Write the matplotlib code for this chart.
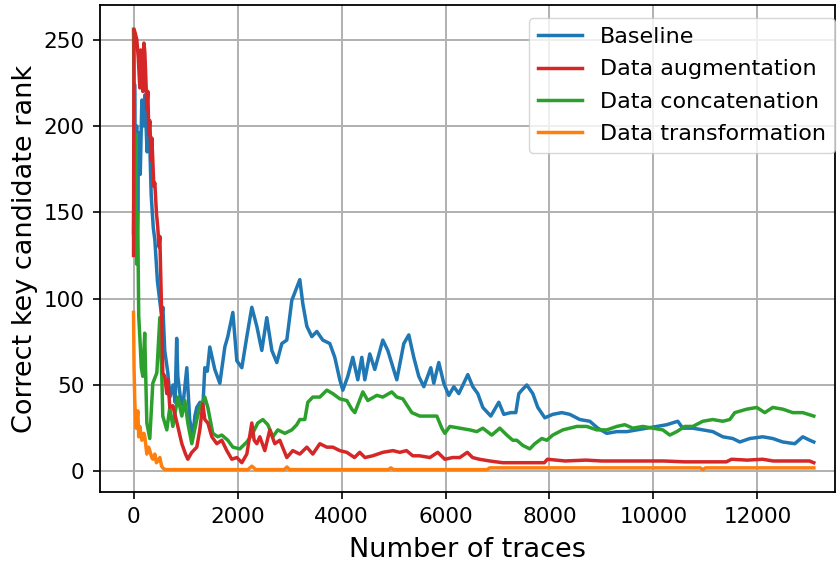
import matplotlib
matplotlib.use("Agg")
import matplotlib.pyplot as plt

# values (x = number of traces, y = rank)
baseline_x = [0, 20, 40, 60, 80, 100, 130, 160, 190, 220, 260, 300, 340, 380, 410,
              460, 500, 540, 565, 600, 660, 700, 760, 800, 830, 852, 900, 950, 1025,
              1080, 1140, 1180, 1217, 1279, 1333, 1371, 1420, 1467, 1563, 1660, 1756,
              1813, 1910, 1987, 2083, 2179, 2275, 2371, 2467, 2563, 2660, 2756, 2852,
              2948, 3044, 3198, 3256, 3333, 3429, 3525, 3640, 3775, 3871, 3967, 4025,
              4121, 4217, 4313, 4390, 4448, 4544, 4640, 4794, 4890, 5063, 5198, 5294,
              5390, 5486, 5583, 5717, 5775, 5871, 5967, 6063, 6160, 6256, 6429, 6525,
              6621, 6717, 6871, 7025, 7121, 7256, 7352, 7410, 7467, 7563, 7679, 7775,
              7910, 8063, 8237, 8390, 8583, 8775, 8929, 9102, 9294, 9487, 9679, 9871,
              10063, 10256, 10467, 10563, 10756, 10948, 11140, 11333, 11525, 11660,
              11852, 12102, 12294, 12486, 12717, 12871, 13006, 13083]
baseline_y = [138, 224, 170, 200, 150, 196, 172, 215, 200, 218, 185, 203, 160, 141, 134,
              110, 100, 90, 95, 70, 57, 43, 50, 40, 77, 55, 43, 38, 60,
              30, 20, 32, 37, 40, 37, 60, 58, 72, 59, 51, 72,
              78, 92, 64, 60, 78, 95, 84, 70, 89, 70, 63, 74,
              76, 99, 111, 97, 84, 78, 81, 76, 74, 66, 53, 47,
              55, 66, 53, 66, 53, 68, 59, 76, 70, 53, 74, 79,
              66, 55, 49, 60, 51, 63, 51, 44, 49, 45, 56, 49,
              45, 37, 32, 40, 33, 34, 34, 45, 47, 50, 45, 37,
              31, 33, 34, 33, 30, 29, 25, 22, 23, 23, 24, 25,
              26, 27, 29, 25, 25, 24, 23, 20, 19, 17,
              19, 20, 19, 17, 16, 20, 18, 17]

augment_x = [0, 10, 30, 63, 90, 121, 140, 160, 179, 200, 217, 240, 256, 275, 295, 313,
             340, 352, 371, 390, 410, 440, 467, 490, 506, 530, 545, 563, 600, 640, 660,
             698, 756, 852, 929, 1000, 1044, 1121, 1217, 1275, 1333, 1371, 1429, 1506,
             1602, 1698, 1794, 1890, 1987, 2083, 2179, 2275, 2320, 2371, 2429, 2525,
             2621, 2717, 2813, 2948, 3063, 3198, 3333, 3448, 3583, 3717, 3833, 3967,
             4102, 4250, 4350, 4450, 4600, 4794, 4990, 5120, 5250, 5370, 5500, 5700,
             5850, 5987, 6140, 6275, 6420, 6520, 6650, 6850, 7100, 7429, 7900, 7960,
             8300, 8700, 9000, 9400, 9800, 10200, 10600, 11000, 11400, 11500, 11800,
             12100, 12300, 12700, 13000, 13083]
augment_y = [125, 256, 254, 250, 240, 222, 244, 240, 220, 248, 243, 225, 210, 220, 195, 203,
             180, 193, 180, 165, 167, 150, 141, 130, 136, 105, 86, 57, 55, 45, 53,
             37, 38, 26, 16, 10, 7, 11, 14, 24, 39, 30, 28, 20,
             16, 18, 12, 7, 8, 5, 10, 28, 18, 16, 20, 12,
             24, 16, 18, 8, 12, 10, 14, 10, 16, 14, 14, 12,
             11, 8, 11, 8, 9, 11, 12, 11, 12, 9, 9, 8,
             11, 7, 8, 8, 11, 8, 7, 6, 5, 5, 5, 7,
             6, 6.5, 6, 6, 6, 6, 5.5, 5.5, 5.5, 7, 6.5,
             7, 6, 6, 6, 5]

concat_x = [0, 15, 30, 45, 60, 80, 100, 121, 150, 179, 215, 256, 313, 371, 448, 506,
            544, 563, 640, 698, 756, 852, 929, 987, 1044, 1121, 1217, 1275, 1371, 1429,
            1525, 1621, 1698, 1813, 1910, 2044, 2179, 2275, 2390, 2487, 2583, 2679,
            2775, 2910, 3044, 3140, 3198, 3294, 3352, 3448, 3583, 3717, 3833, 3967,
            4102, 4198, 4256, 4410, 4506, 4679, 4794, 4967, 5063, 5179, 5352, 5506,
            5698, 5833, 5929, 5987, 6083, 6275, 6467, 6602, 6717, 6890, 7044, 7179,
            7294, 7371, 7487, 7621, 7717, 7852, 7948, 8063, 8256, 8525, 8717, 8910,
            9102, 9294, 9448, 9602, 9794, 9987, 10179, 10313, 10448, 10602, 10756,
            10948, 11140, 11333, 11467, 11563, 11794, 11987, 12140, 12294, 12486,
            12679, 12871, 13083]
concat_y = [256, 200, 140, 195, 120, 150, 90, 78, 60, 55, 80, 28, 19, 51, 57, 89,
            55, 32, 24, 37, 26, 43, 32, 41, 28, 16, 30, 37, 43, 37,
            22, 20, 21, 18, 14, 13, 17, 21, 28, 30, 27, 20,
            24, 22, 24, 27, 30, 30, 40, 43, 43, 47, 45, 42,
            41, 36, 34, 46, 41, 44, 43, 46, 43, 42, 34, 32,
            32, 32, 25, 22, 26, 25, 24, 23, 25, 21, 25, 21,
            18, 18, 15, 13, 16, 19, 18, 21, 24, 26, 26, 24,
            24, 26, 27, 25, 26, 25, 24, 21, 23, 26, 26,
            29, 30, 29, 30, 34, 36, 37, 34, 37, 36,
            34, 34, 32]

transform_x = [0, 10, 25, 50, 83, 100, 121, 160, 200, 217, 256, 290, 313, 350, 371, 410,
               440, 467, 506, 540, 563, 602, 2200, 2275, 2350, 2900, 2950, 3000, 4900,
               4950, 5000, 6800, 6850, 10900, 10950, 11000, 13083]
transform_y = [92, 60, 40, 25, 35, 20, 26, 18, 22, 20, 10, 14, 12, 8, 7, 10,
               5, 6, 8, 3, 2, 1, 1, 3, 1, 1, 2.5, 1, 1,
               2, 1, 1, 2, 2, 1, 2, 2]

fig, ax = plt.subplots(figsize=(8.38, 5.63), dpi=100)
fig.subplots_adjust(left=0.119, right=0.997, top=0.991, bottom=0.126)

lw = 2.5
ax.plot(baseline_x, baseline_y, color="tab:blue", lw=lw, label="Baseline", zorder=2)
ax.plot(augment_x, augment_y, color="tab:red", lw=lw, label="Data augmentation", zorder=2.2)
ax.plot(concat_x, concat_y, color="tab:green", lw=lw, label="Data concatenation", zorder=2.1)
ax.plot(transform_x, transform_y, color="tab:orange", lw=lw, label="Data transformation", zorder=2.3)

ax.set_xlim(-650, 13500)
ax.set_ylim(-12, 270)
ax.set_xticks(range(0, 12001, 2000))
ax.set_yticks(range(0, 251, 50))
ax.grid(True, color="#b0b0b0", lw=1.4)
ax.set_axisbelow(True)
ax.tick_params(labelsize=15.5, length=5, width=1.2, pad=6)
for s in ax.spines.values():
    s.set_linewidth(1.3)

ax.set_xlabel("Number of traces", fontsize=19.5, labelpad=7)
ax.set_ylabel("Correct key candidate rank", fontsize=19.5, labelpad=4)
ax.legend(loc="upper right", fontsize=16, borderaxespad=0, labelspacing=0.55,
          bbox_to_anchor=(0.999, 0.973))

fig.savefig("out.png", dpi=100)
